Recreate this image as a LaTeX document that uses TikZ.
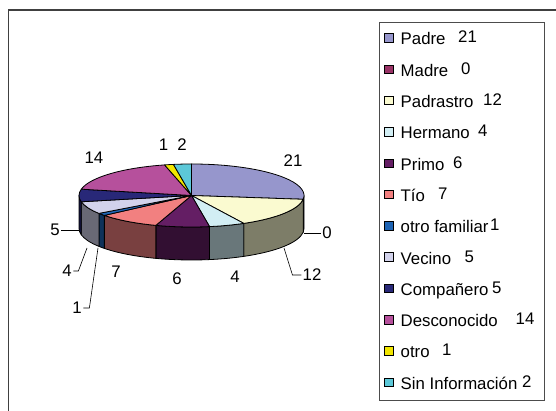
\documentclass[tikz,border=0pt]{standalone}
\usepackage{fontspec}
\setmainfont{Liberation Sans}
\usepackage{tikz}
\definecolor{cpadre}{RGB}{150,150,204}
\definecolor{cmadre}{RGB}{153,51,102}
\definecolor{cpadrastro}{RGB}{250,250,208}
\definecolor{chermano}{RGB}{210,238,244}
\definecolor{cprimo}{RGB}{100,30,100}
\definecolor{ctio}{RGB}{242,128,128}
\definecolor{cotrofam}{RGB}{30,100,180}
\definecolor{cvecino}{RGB}{210,210,235}
\definecolor{ccompa}{RGB}{40,40,120}
\definecolor{cdesco}{RGB}{182,80,156}
\definecolor{cotro}{RGB}{242,230,0}
\definecolor{csininfo}{RGB}{92,200,216}
\begin{document}
\begin{tikzpicture}[x=1pt,y=1pt,
	slice/.style={draw=black,line width=0.8pt,line join=round},
	txt/.style={font=\fontsize{16.8}{20}\selectfont,inner sep=0pt},
	key/.style={draw=black,line width=0.8pt,minimum size=8.5pt,inner sep=0pt},
	leader/.style={draw=black,line width=0.6pt}]
	\useasboundingbox (0,0) rectangle (556,411);
	\draw[black!75,line width=1.2pt] (8.3,0)-- (8.3,401)-- (556,401);
	\draw[black!70,line width=0.8pt] (379,388.3) rectangle (544,11);

	% sides
	\draw[slice,fill=cpadre!50!black] (191.5,215.5) ++(-6.923:112.5pt and 31.5pt) arc (-6.923:0:112.5pt and 31.5pt) -- ++(0,-33) arc (0:-6.923:112.5pt and 31.5pt) -- cycle;
	\draw[slice,fill=cpadrastro!50!black] (191.5,215.5) ++(-62.308:112.5pt and 31.5pt) arc (-62.308:-6.923:112.5pt and 31.5pt) -- ++(0,-33) arc (-6.923:-62.308:112.5pt and 31.5pt) -- cycle;
	\draw[slice,fill=chermano!50!black] (191.5,215.5) ++(-80.769:112.5pt and 31.5pt) arc (-80.769:-62.308:112.5pt and 31.5pt) -- ++(0,-33) arc (-62.308:-80.769:112.5pt and 31.5pt) -- cycle;
	\draw[slice,fill=cprimo!50!black] (191.5,215.5) ++(-108.462:112.5pt and 31.5pt) arc (-108.462:-80.769:112.5pt and 31.5pt) -- ++(0,-33) arc (-80.769:-108.462:112.5pt and 31.5pt) -- cycle;
	\draw[slice,fill=ctio!50!black] (191.5,215.5) ++(-140.769:112.5pt and 31.5pt) arc (-140.769:-108.462:112.5pt and 31.5pt) -- ++(0,-33) arc (-108.462:-140.769:112.5pt and 31.5pt) -- cycle;
	\draw[slice,fill=cotrofam!50!black] (191.5,215.5) ++(-145.385:112.5pt and 31.5pt) arc (-145.385:-140.769:112.5pt and 31.5pt) -- ++(0,-33) arc (-140.769:-145.385:112.5pt and 31.5pt) -- cycle;
	\draw[slice,fill=cvecino!50!black] (191.5,215.5) ++(-168.462:112.5pt and 31.5pt) arc (-168.462:-145.385:112.5pt and 31.5pt) -- ++(0,-33) arc (-145.385:-168.462:112.5pt and 31.5pt) -- cycle;
	\draw[slice,fill=ccompa!50!black] (191.5,215.5) ++(-180:112.5pt and 31.5pt) arc (-180:-168.462:112.5pt and 31.5pt) -- ++(0,-33) arc (-168.462:-180:112.5pt and 31.5pt) -- cycle;

	% top
	\draw[slice,fill=cpadre] (191.5,215.5) -- ++(90:112.5pt and 31.5pt) arc (90:-6.923:112.5pt and 31.5pt) -- cycle;
	\draw[slice,fill=cpadrastro] (191.5,215.5) -- ++(-6.923:112.5pt and 31.5pt) arc (-6.923:-62.308:112.5pt and 31.5pt) -- cycle;
	\draw[slice,fill=chermano] (191.5,215.5) -- ++(-62.308:112.5pt and 31.5pt) arc (-62.308:-80.769:112.5pt and 31.5pt) -- cycle;
	\draw[slice,fill=cprimo] (191.5,215.5) -- ++(-80.769:112.5pt and 31.5pt) arc (-80.769:-108.462:112.5pt and 31.5pt) -- cycle;
	\draw[slice,fill=ctio] (191.5,215.5) -- ++(-108.462:112.5pt and 31.5pt) arc (-108.462:-140.769:112.5pt and 31.5pt) -- cycle;
	\draw[slice,fill=cotrofam] (191.5,215.5) -- ++(-140.769:112.5pt and 31.5pt) arc (-140.769:-145.385:112.5pt and 31.5pt) -- cycle;
	\draw[slice,fill=cvecino] (191.5,215.5) -- ++(-145.385:112.5pt and 31.5pt) arc (-145.385:-168.462:112.5pt and 31.5pt) -- cycle;
	\draw[slice,fill=ccompa] (191.5,215.5) -- ++(-168.462:112.5pt and 31.5pt) arc (-168.462:-191.538:112.5pt and 31.5pt) -- cycle;
	\draw[slice,fill=cdesco] (191.5,215.5) -- ++(-191.538:112.5pt and 31.5pt) arc (-191.538:-256.154:112.5pt and 31.5pt) -- cycle;
	\draw[slice,fill=cotro] (191.5,215.5) -- ++(-256.154:112.5pt and 31.5pt) arc (-256.154:-260.769:112.5pt and 31.5pt) -- cycle;
	\draw[slice,fill=csininfo] (191.5,215.5) -- ++(-260.769:112.5pt and 31.5pt) arc (-260.769:-270:112.5pt and 31.5pt) -- cycle;

	% values on the pie
	\node[txt] (vpadre) at (293,250) {21};
	\node[txt] (vmadre) at (327,178) {0};
	\node[txt] (vpadrastro) at (312,136) {12};
	\node[txt] (vhermano) at (235,134) {4};
	\node[txt] (vprimo) at (177,132.5) {6};
	\node[txt] (vtio) at (116,139) {7};
	\node[txt] (votrofam) at (77,103) {1};
	\node[txt] (vvecino) at (67,140) {4};
	\node[txt] (vcompa) at (55,181) {5};
	\node[txt] (vdesco) at (94,253) {14};
	\node[txt] (votro) at (163.5,266) {1};
	\node[txt] (vsininfo) at (182,266) {2};
	\coordinate (mmadre) at (304,178);
	\coordinate (mpadrastro) at (284,163);
	\coordinate (motrofam) at (98,163);
	\coordinate (mvecino) at (87,163);
	\coordinate (mcompa) at (79,181);
	\draw[leader] ([xshift=-1pt]vmadre.west) -- (mmadre);
	\draw[leader] ([xshift=-1pt]vpadrastro.west) -- ++(-9,0) -- (mpadrastro);
	\draw[leader] ([xshift=1.5pt]votrofam.east) -- ++(6,0) -- (motrofam);
	\draw[leader] ([xshift=1.5pt]vvecino.east) -- ++(5,0) -- (mvecino);
	\draw[leader] ([xshift=1.5pt]vcompa.east) -- (mcompa);

	% legend
	\node[key,fill=cpadre] (kpadre) at (389,373) {};
	\node[key,fill=cmadre] (kmadre) at (389,341.7) {};
	\node[key,fill=cpadrastro] (kpadrastro) at (389,310.4) {};
	\node[key,fill=chermano] (khermano) at (389,279.1) {};
	\node[key,fill=cprimo] (kprimo) at (389,247.8) {};
	\node[key,fill=ctio] (ktio) at (389,216.5) {};
	\node[key,fill=cotrofam] (kotrofam) at (389,185.2) {};
	\node[key,fill=cvecino] (kvecino) at (389,153.9) {};
	\node[key,fill=ccompa] (kcompa) at (389,122.6) {};
	\node[key,fill=cdesco] (kdesco) at (389,91.3) {};
	\node[key,fill=cotro] (kotro) at (389,60) {};
	\node[key,fill=csininfo] (ksininfo) at (389,28.7) {};
	\node[txt,anchor=base west] (lpadre) at (400.5,366) {Padre};
	\node[txt,anchor=base west] (lmadre) at (400.5,334.7) {Madre};
	\node[txt,anchor=base west] (lpadrastro) at (400.5,303.4) {Padrastro};
	\node[txt,anchor=base west] (lhermano) at (400.5,272.1) {Hermano};
	\node[txt,anchor=base west] (lprimo) at (400.5,240.8) {Primo};
	\node[txt,anchor=base west] (ltio) at (400.5,209.5) {Tío};
	\node[txt,anchor=base west] (lotrofam) at (400.5,178.2) {otro familiar};
	\node[txt,anchor=base west] (lvecino) at (400.5,146.9) {Vecino};
	\node[txt,anchor=base west] (lcompa) at (400.5,115.6) {Compañero};
	\node[txt,anchor=base west] (ldesco) at (400.5,84.3) {Desconocido};
	\node[txt,anchor=base west] (lotro) at (400.5,53) {otro};
	\node[txt,anchor=base west] (lsininfo) at (400.5,21.7) {Sin Información};
	\node[txt,anchor=base west] (npadre) at (458,368) {21};
	\node[txt,anchor=base west] (nmadre) at (461,336.7) {0};
	\node[txt,anchor=base west] (npadrastro) at (483,305.4) {12};
	\node[txt,anchor=base west] (nhermano) at (478,274.1) {4};
	\node[txt,anchor=base west] (nprimo) at (453,242.8) {6};
	\node[txt,anchor=base west] (ntio) at (438,211.5) {7};
	\node[txt,anchor=base west] (notrofam) at (490,180.2) {1};
	\node[txt,anchor=base west] (nvecino) at (464.5,148.9) {5};
	\node[txt,anchor=base west] (ncompa) at (492,117.6) {5};
	\node[txt,anchor=base west] (ndesco) at (515.5,86.3) {14};
	\node[txt,anchor=base west] (notro) at (442,55) {1};
	\node[txt,anchor=base west] (nsininfo) at (522,23.7) {2};
\end{tikzpicture}
\end{document}
